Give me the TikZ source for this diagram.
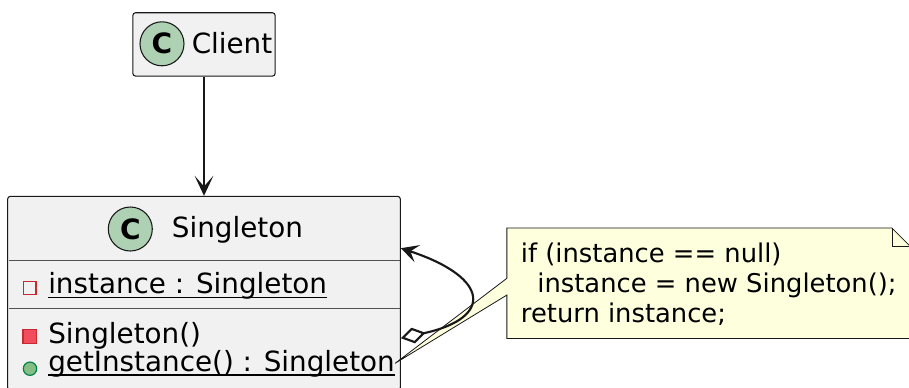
\documentclass[tikz,border=0pt]{standalone}
\usepackage{fontspec}
\setmainfont{DejaVu Sans}
\usetikzlibrary{arrows.meta}
\definecolor{classbg}{HTML}{F1F1F1}
\definecolor{classline}{HTML}{181818}
\definecolor{spotbg}{HTML}{ADD1B2}
\definecolor{notebg}{HTML}{FEFFDD}
\definecolor{privline}{HTML}{C82930}
\definecolor{privbg}{HTML}{F24D5C}
\definecolor{publine}{HTML}{038048}
\definecolor{pubbg}{HTML}{84BE84}
\newcommand\statictext[1]{\setbox0=\hbox{#1}\rlap{\rule[-3.6pt]{\wd0}{1.1pt}}\box0}
\begin{document}
\begin{tikzpicture}[x=0.75pt,y=-0.75pt,
    classbox/.style={draw=classline,fill=classbg,line width=0.8pt,rounded corners=2pt,inner sep=0pt},
    spot/.style={circle,draw=classline,fill=spotbg,line width=0.8pt,minimum size=33pt,inner sep=0pt,
      font=\fontsize{21}{21}\selectfont\bfseries},
    member/.style={anchor=base west,inner sep=0pt,font=\fontsize{20.85}{24}\selectfont},
    privfield/.style={rectangle,draw=privline,line width=0.9pt,minimum size=9.5pt,inner sep=0pt},
    privmethod/.style={rectangle,draw=privline,fill=privbg,line width=0.9pt,minimum size=10pt,inner sep=0pt},
    pubmethod/.style={circle,draw=publine,fill=pubbg,line width=0.9pt,minimum size=10pt,inner sep=0pt},
    sepline/.style={classline!75,line width=0.75pt},
    uses/.style={-{Stealth[length=15pt,width=14pt,inset=8pt]},classline,line width=1.6pt},
    selfref/.style={{Diamond[open,length=19pt,width=12pt]}-{Stealth[length=13pt,width=13.5pt,inset=5.5pt]},
      classline,line width=1.6pt},
    notebox/.style={minimum width=301.9pt,minimum height=82.5pt,inner sep=0pt},
    noteline/.style={draw=classline,fill=notebg,line width=0.6pt},
    notetext/.style={anchor=base west,align=left,inner sep=0pt,font=\fontsize{19.35}{22.5}\selectfont}]
  \useasboundingbox (0,0) rectangle (909,387);
  \node[classbox,minimum width=106.7pt,minimum height=47.5pt] (client) at (204,44.4) {};
  \node[spot] (clientspot) at (162,43.8) {C};
  \node[member] (clientname) at (191.5,53.3) {Client};
  \node[classbox,minimum width=294.5pt,minimum height=145.3pt] (single) at (204,293.2) {};
  \node[spot] (singlespot) at (130.3,229) {C};
  \node[member] (singlename) at (171.7,237) {Singleton};
  \draw[sepline] (8.5,260) -- (399.5,260);
  \draw[sepline] (8.5,308.3) -- (399.5,308.3);
  \node[privfield] (fieldicon) at (29.7,288) {};
  \node[member] (field) at (48,293.3) {\statictext{instance : Singleton}};
  \node[privmethod] (ctoricon) at (29.7,336.5) {};
  \node[member] (ctor) at (48,343.3) {Singleton()};
  \node[pubmethod] (getinsticon) at (30,368.7) {};
  \node[member] (getinst) at (48,371) {\statictext{getInstance() : Singleton}};
  \draw[uses] (client) -- (single);
  \node[notebox] (note) at (708.4,283.3) {};
  \draw[noteline] (note.north west) -- ([xshift=-13.5pt]note.north east)
    -- ([yshift=-13.5pt]note.north east) -- (note.south east) -- (note.south west)
    -- ([yshift=-8.8pt]note.west) -- (getinst.east) -- ([yshift=3.75pt]note.west) -- cycle;
  \draw[noteline,fill=none] ([xshift=-13.5pt]note.north east) |- ([yshift=-13.5pt]note.north east);
  \node[notetext] (notetxt) at (520.7,322.3) {if (instance == null)\\\ \ instance = new Singleton();\\return instance;};
  \draw[selfref] ([yshift=-33.75pt]single.east) .. controls +(92,-20) and +(90,29.7) .. ([yshift=33.75pt]single.east);
\end{tikzpicture}
\end{document}
